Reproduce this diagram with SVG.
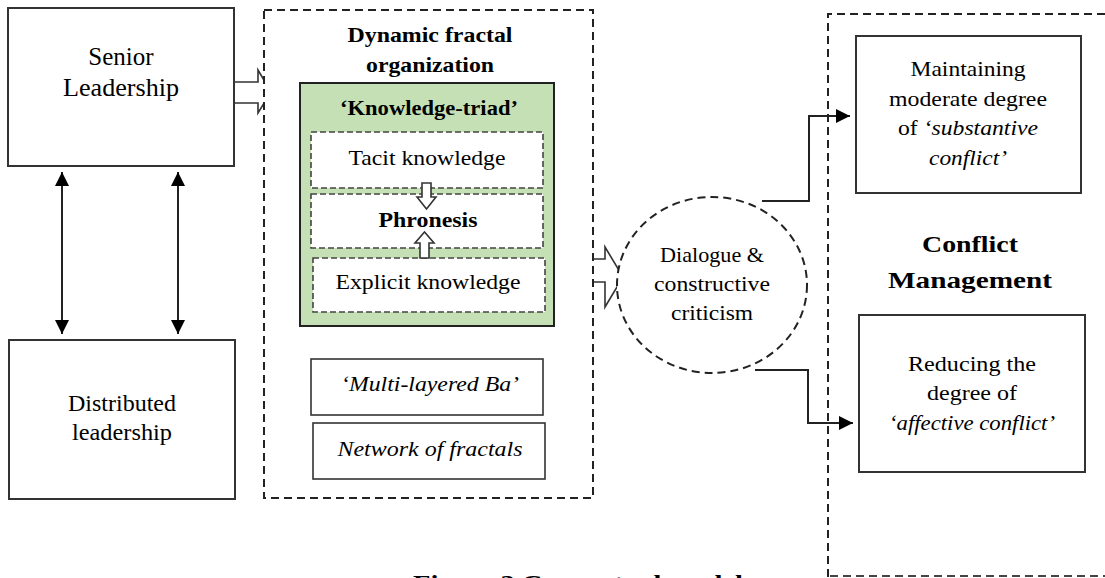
<svg xmlns="http://www.w3.org/2000/svg" width="1105" height="578" viewBox="0 0 1105 578" font-family="'Liberation Serif', 'Times New Roman', Times, serif">
<style>
.box{fill:#fff;stroke:#333;stroke-width:2}
.dashc{fill:#fff;stroke:#222;stroke-width:2;stroke-dasharray:8 5}
.dashi{fill:#fff;stroke:#444;stroke-width:1.6;stroke-dasharray:6 3}
.green{fill:#c5e0b4;stroke:#222;stroke-width:2}
.hollow{fill:#fff;stroke:#333;stroke-width:1.6}
.conn{fill:none;stroke:#222;stroke-width:2}
text{font-family:'Liberation Serif','Times New Roman',Times,serif;fill:#000;text-anchor:middle}
.b{font-weight:bold}
.i{font-style:italic}
</style>
<defs>
<marker id="ah" viewBox="0 0 10 10" refX="10" refY="5" markerWidth="7" markerHeight="7" markerUnits="strokeWidth" orient="auto-start-reverse">
<path d="M0,0 L10,5 L0,10 z" fill="#000"/>
</marker>
</defs>

<g id="connectors">
<path class="conn" d="M62,172 V334" marker-start="url(#ah)" marker-end="url(#ah)"/>
<path class="conn" d="M178,172 V334" marker-start="url(#ah)" marker-end="url(#ah)"/>
<path class="conn" d="M762,201 H809 V116 H850" marker-end="url(#ah)"/>
<path class="conn" d="M755,370 H808 V423 H853" marker-end="url(#ah)"/>
<polygon class="hollow" points="233,82 258,82 258,70 271,92 258,113 258,103 233,103"/>
<polygon class="hollow" points="592,259 605,259 605,247 623,277 605,307 605,282 592,282"/>
</g>

<g id="senior-leadership">
<rect class="box" x="8" y="8" width="226" height="158"/>
<text x="121" y="65" font-size="25">Senior</text>
<text x="121" y="96" font-size="25" textLength="116" lengthAdjust="spacingAndGlyphs">Leadership</text>
</g>

<g id="distributed-leadership">
<rect class="box" x="9" y="340" width="226" height="159"/>
<text x="122" y="411" font-size="23" textLength="108" lengthAdjust="spacingAndGlyphs">Distributed</text>
<text x="122" y="440" font-size="23" textLength="100" lengthAdjust="spacingAndGlyphs">leadership</text>
</g>

<g id="dynamic-fractal-organization">
<rect class="dashc" x="264" y="10" width="329" height="488"/>
<text class="b" x="430" y="42" font-size="22" textLength="165" lengthAdjust="spacingAndGlyphs">Dynamic fractal</text>
<text class="b" x="430" y="72" font-size="22" textLength="128" lengthAdjust="spacingAndGlyphs">organization</text>
</g>

<g id="knowledge-triad">
<rect class="green" x="300" y="83" width="254" height="243"/>
<text class="b" x="429" y="115" font-size="21" textLength="178" lengthAdjust="spacingAndGlyphs">‘Knowledge-triad’</text>
</g>

<g id="tacit-knowledge">
<rect class="dashi" x="311" y="132" width="232" height="56"/>
<text x="427" y="165" font-size="21" textLength="157" lengthAdjust="spacingAndGlyphs">Tacit knowledge</text>
</g>

<g id="phronesis">
<rect class="dashi" x="311" y="194" width="232" height="54"/>
<text class="b" x="428" y="227" font-size="21" textLength="99" lengthAdjust="spacingAndGlyphs">Phronesis</text>
</g>

<g id="explicit-knowledge">
<rect class="dashi" x="313" y="258" width="232" height="54"/>
<text x="428" y="289" font-size="21" textLength="185" lengthAdjust="spacingAndGlyphs">Explicit knowledge</text>
</g>

<g id="triad-arrows">
<polygon class="hollow" points="422,183 431,183 431,197 436,197 426.5,209 417,197 422,197"/>
<polygon class="hollow" points="420,258 429,258 429,243 434,243 424.5,232 415,243 420,243"/>
</g>

<g id="multi-layered-ba">
<rect class="box" x="311" y="359" width="232" height="56" style="stroke-width:1.6"/>
<text class="i" x="430" y="391" font-size="21" textLength="178" lengthAdjust="spacingAndGlyphs">‘Multi-layered Ba’</text>
</g>

<g id="network-of-fractals">
<rect class="box" x="313" y="423" width="232" height="56" style="stroke-width:1.6"/>
<text class="i" x="430" y="456" font-size="21" textLength="185" lengthAdjust="spacingAndGlyphs">Network of fractals</text>
</g>

<g id="dialogue">
<ellipse cx="712" cy="285" rx="95" ry="88" fill="#fff" stroke="#222" stroke-width="2" stroke-dasharray="8 5"/>
<text x="712" y="262" font-size="21" textLength="104" lengthAdjust="spacingAndGlyphs">Dialogue &amp;</text>
<text x="712" y="291" font-size="21" textLength="116" lengthAdjust="spacingAndGlyphs">constructive</text>
<text x="712" y="320" font-size="21" textLength="82" lengthAdjust="spacingAndGlyphs">criticism</text>
</g>

<g id="conflict-management">
<path d="M828,577 V14 H1105" fill="none" stroke="#222" stroke-width="2" stroke-dasharray="8 5"/>
<path d="M830,576 H1105" fill="none" stroke="#444" stroke-width="2" stroke-dasharray="8 5"/>
<text class="b" x="970" y="252" font-size="24" textLength="96" lengthAdjust="spacingAndGlyphs">Conflict</text>
<text class="b" x="970" y="288" font-size="24" textLength="164" lengthAdjust="spacingAndGlyphs">Management</text>
</g>

<g id="substantive-conflict">
<rect class="box" x="856" y="36" width="225" height="157"/>
<text x="968" y="76" font-size="21" textLength="115" lengthAdjust="spacingAndGlyphs">Maintaining</text>
<text x="968" y="106" font-size="21" textLength="158" lengthAdjust="spacingAndGlyphs">moderate degree</text>
<text x="968" y="135" font-size="21" textLength="140" lengthAdjust="spacingAndGlyphs">of <tspan class="i">‘substantive</tspan></text>
<text class="i" x="968" y="165" font-size="21" textLength="78" lengthAdjust="spacingAndGlyphs">conflict’</text>
</g>

<g id="affective-conflict">
<rect class="box" x="859" y="315" width="226" height="157"/>
<text x="972" y="371" font-size="21" textLength="128" lengthAdjust="spacingAndGlyphs">Reducing the</text>
<text x="972" y="400" font-size="21" textLength="90" lengthAdjust="spacingAndGlyphs">degree of</text>
<text class="i" x="972" y="430" font-size="21" textLength="166" lengthAdjust="spacingAndGlyphs">‘affective conflict’</text>
</g>

<text class="b" x="578" y="591" font-size="24" textLength="330" lengthAdjust="spacingAndGlyphs">Figure 2 Conceptual model</text>
</svg>
